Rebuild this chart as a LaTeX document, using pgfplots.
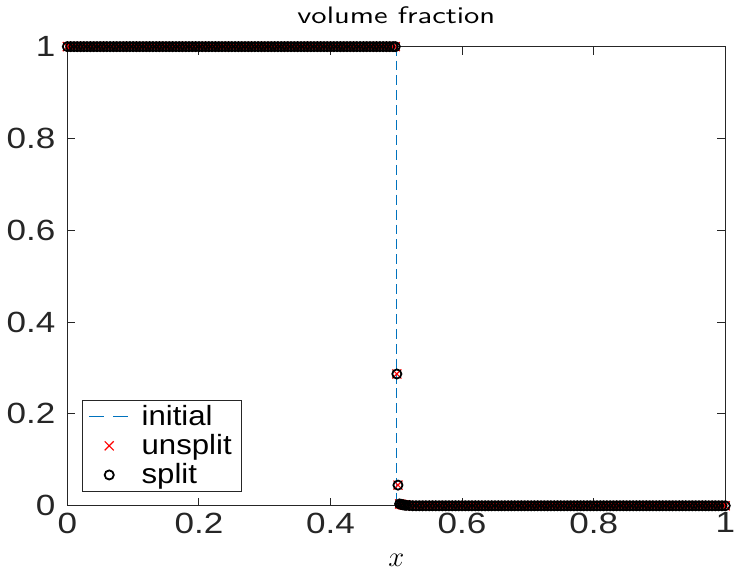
\documentclass[border=0pt]{standalone}
\usepackage{fontspec}
\setmainfont{Liberation Sans}
\newfontfamily\tickfont[FakeStretch=1.2]{Liberation Sans}
\newfontfamily\legfont[FakeStretch=1.12]{Liberation Sans}
\newfontfamily\titlefont[FakeStretch=1.28, Extension=.otf]{lmsans10-regular}
\usepackage{pgfplots}
\pgfplotsset{compat=1.18}
\usepackage{pgfplotstable}
\definecolor{mblue}{rgb}{0,0.447,0.741}
\definecolor{mgray}{rgb}{0.15,0.15,0.15}

% volume fraction after advection (same values for unsplit and split)
\pgfplotstableread[row sep=\\]{
x y\\
0 1\\ 0.005 1\\ 0.01 1\\ 0.015 1\\ 0.02 1\\ 0.025 1\\ 0.03 1\\ 0.035 1\\ 0.04 1\\ 0.045 1\\
0.05 1\\ 0.055 1\\ 0.06 1\\ 0.065 1\\ 0.07 1\\ 0.075 1\\ 0.08 1\\ 0.085 1\\ 0.09 1\\ 0.095 1\\
0.1 1\\ 0.105 1\\ 0.11 1\\ 0.115 1\\ 0.12 1\\ 0.125 1\\ 0.13 1\\ 0.135 1\\ 0.14 1\\ 0.145 1\\
0.15 1\\ 0.155 1\\ 0.16 1\\ 0.165 1\\ 0.17 1\\ 0.175 1\\ 0.18 1\\ 0.185 1\\ 0.19 1\\ 0.195 1\\
0.2 1\\ 0.205 1\\ 0.21 1\\ 0.215 1\\ 0.22 1\\ 0.225 1\\ 0.23 1\\ 0.235 1\\ 0.24 1\\ 0.245 1\\
0.25 1\\ 0.255 1\\ 0.26 1\\ 0.265 1\\ 0.27 1\\ 0.275 1\\ 0.28 1\\ 0.285 1\\ 0.29 1\\ 0.295 1\\
0.3 1\\ 0.305 1\\ 0.31 1\\ 0.315 1\\ 0.32 1\\ 0.325 1\\ 0.33 1\\ 0.335 1\\ 0.34 1\\ 0.345 1\\
0.35 1\\ 0.355 1\\ 0.36 1\\ 0.365 1\\ 0.37 1\\ 0.375 1\\ 0.38 1\\ 0.385 1\\ 0.39 1\\ 0.395 1\\
0.4 1\\ 0.405 1\\ 0.41 1\\ 0.415 1\\ 0.42 1\\ 0.425 1\\ 0.43 1\\ 0.435 1\\ 0.44 1\\ 0.445 1\\
0.45 1\\ 0.455 1\\ 0.46 1\\ 0.465 1\\ 0.47 1\\ 0.475 1\\ 0.48 1\\ 0.485 1\\ 0.49 1\\ 0.495 1\\
0.4985 1\\ 0.5008 0.287\\ 0.5025 0.045\\ 0.505 0.004\\ 0.5075 0.003\\ 0.51 0.002\\ 0.5125 0.0015\\
0.515 0.001\\ 0.52 0.0005\\
0.525 0\\ 0.53 0\\ 0.535 0\\ 0.54 0\\ 0.545 0\\ 0.55 0\\ 0.555 0\\ 0.56 0\\ 0.565 0\\ 0.57 0\\
0.575 0\\ 0.58 0\\ 0.585 0\\ 0.59 0\\ 0.595 0\\ 0.6 0\\ 0.605 0\\ 0.61 0\\ 0.615 0\\ 0.62 0\\
0.625 0\\ 0.63 0\\ 0.635 0\\ 0.64 0\\ 0.645 0\\ 0.65 0\\ 0.655 0\\ 0.66 0\\ 0.665 0\\ 0.67 0\\
0.675 0\\ 0.68 0\\ 0.685 0\\ 0.69 0\\ 0.695 0\\ 0.7 0\\ 0.705 0\\ 0.71 0\\ 0.715 0\\ 0.72 0\\
0.725 0\\ 0.73 0\\ 0.735 0\\ 0.74 0\\ 0.745 0\\ 0.75 0\\ 0.755 0\\ 0.76 0\\ 0.765 0\\ 0.77 0\\
0.775 0\\ 0.78 0\\ 0.785 0\\ 0.79 0\\ 0.795 0\\ 0.8 0\\ 0.805 0\\ 0.81 0\\ 0.815 0\\ 0.82 0\\
0.825 0\\ 0.83 0\\ 0.835 0\\ 0.84 0\\ 0.845 0\\ 0.85 0\\ 0.855 0\\ 0.86 0\\ 0.865 0\\ 0.87 0\\
0.875 0\\ 0.88 0\\ 0.885 0\\ 0.89 0\\ 0.895 0\\ 0.9 0\\ 0.905 0\\ 0.91 0\\ 0.915 0\\ 0.92 0\\
0.925 0\\ 0.93 0\\ 0.935 0\\ 0.94 0\\ 0.945 0\\ 0.95 0\\ 0.955 0\\ 0.96 0\\ 0.965 0\\ 0.97 0\\
0.975 0\\ 0.98 0\\ 0.985 0\\ 0.99 0\\ 0.995 0\\ 1 0\\
}\vf

\begin{document}
\begin{tikzpicture}
\begin{axis}[
  scale only axis,
  width=331pt, height=231pt,
  xmin=0, xmax=1, ymin=0, ymax=1,
  xtick={0,0.2,0.4,0.6,0.8,1},
  ytick={0,0.2,0.4,0.6,0.8,1},
  tick align=inside,
  major tick length=4pt,
  axis line style={mgray, line width=0.5pt},
  tick style={mgray, line width=0.5pt},
  /pgf/number format/assume math mode=true,
  tick label style={font=\tickfont\fontsize{14.7}{16}\selectfont, text=mgray},
  xticklabel style={inner xsep=0pt},
  yticklabel style={xshift=-2.5pt},
  title={volume fraction},
  title style={font=\titlefont\fontsize{12}{14}\selectfont, yshift=2pt},
  xlabel={$x$},
  xlabel style={font=\fontsize{14}{16}\selectfont, yshift=-3.5pt},
  clip=false,
  legend cell align=left,
  legend style={at={(0.0227,0.030)}, anchor=south west,
    font=\legfont\fontsize{14}{15}\selectfont, draw=mgray, line width=0.5pt,
    inner xsep=3pt, inner ysep=0.5pt, row sep=-1pt, column sep=4pt},
  legend image code/.code={\draw[mark repeat=2,mark phase=2,#1]
    plot coordinates {(0cm,0cm) (0.35cm,0cm) (0.7cm,0cm)};},
]
\addplot[mblue, line width=0.7pt, dash pattern=on 5pt off 2.5pt, mark=none, forget plot]
  coordinates {(0,1) (0.5,1) (0.5,0) (1,0)};
\addlegendimage{mblue, line width=0.7pt, dash pattern=on 7.5pt off 4.5pt}
\addlegendentry{initial}
\addplot[only marks, mark=x, mark size=3.2pt, red, mark options={line width=0.6pt}]
  table[x=x, y=y] {\vf};
\addlegendentry{unsplit}
\addplot[only marks, mark=o, mark size=2.3pt, black, mark options={line width=0.9pt}]
  table[x=x, y=y] {\vf};
\addlegendentry{split}
\end{axis}
\end{tikzpicture}
\end{document}
